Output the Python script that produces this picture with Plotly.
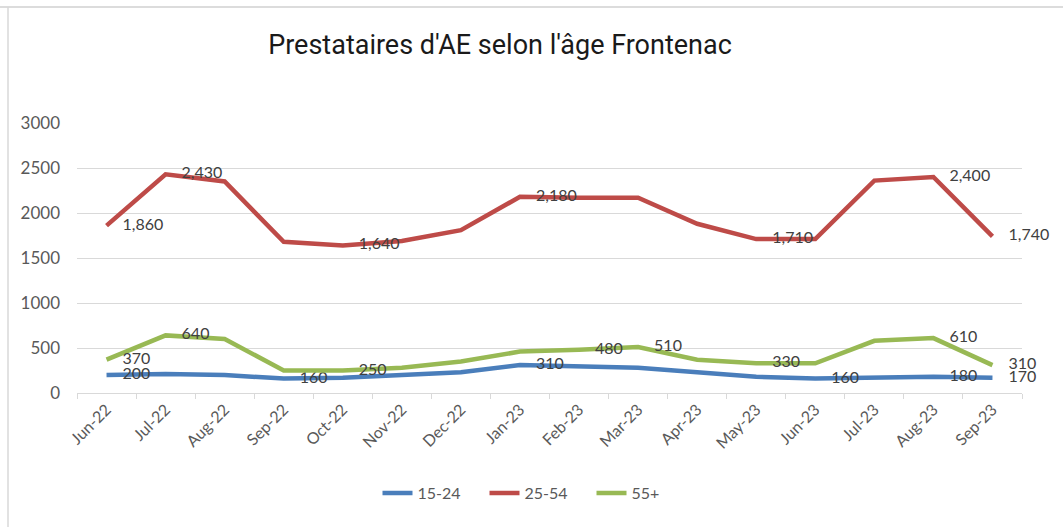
import plotly.graph_objects as go

months = ["Jun-22", "Jul-22", "Aug-22", "Sep-22", "Oct-22", "Nov-22", "Dec-22", "Jan-23",
          "Feb-23", "Mar-23", "Apr-23", "May-23", "Jun-23", "Jul-23", "Aug-23", "Sep-23"]

age_15_24 = [200, 210, 200, 160, 170, 200, 230, 310, 300, 280, 230, 180, 160, 170, 180, 170]
age_25_54 = [1860, 2430, 2350, 1680, 1640, 1690, 1810, 2180, 2170, 2170, 1880, 1710, 1710, 2360, 2400, 1740]
age_55_plus = [370, 640, 600, 250, 250, 280, 350, 460, 480, 510, 370, 330, 330, 580, 610, 310]

# months that carry a value label, per series
labels_15_24 = ["Jun-22", "Sep-22", "Jan-23", "Jun-23", "Aug-23", "Sep-23"]
labels_25_54 = ["Jun-22", "Jul-22", "Oct-22", "Jan-23", "May-23", "Aug-23", "Sep-23"]
labels_55_plus = ["Jun-22", "Jul-22", "Oct-22", "Feb-23", "Mar-23", "May-23", "Aug-23", "Sep-23"]

series = [
    ("15-24", age_15_24, labels_15_24, "#4a7ebb", "{:d}"),
    ("25-54", age_25_54, labels_25_54, "#be4b48", "{:,}"),
    ("55+", age_55_plus, labels_55_plus, "#98b954", "{:d}"),
]

W, H = 1063, 527
L, R, T, B = 77, 1022, 123, 393  # plot area in pixels


def px_x(px):
    return (px - L) / (R - L)


def px_y(py):
    return (B - py) / (B - T)


fig = go.Figure()
for name, vals, lab_months, color, fmt in series:
    text = [fmt.format(v) if m in lab_months else "" for m, v in zip(months, vals)]
    fig.add_trace(go.Scatter(
        x=months, y=vals, name=name,
        mode="lines+markers+text",
        line=dict(color=color, width=4.5),
        marker=dict(size=24, color="rgba(0,0,0,0)"),
        text=text, textposition="middle right",
        textfont=dict(family="Lato", size=16, color="#404040"),
        cliponaxis=False,
    ))

fig.update_layout(
    width=W, height=H,
    margin=dict(l=L, r=W - R, t=T, b=H - B),
    paper_bgcolor="white", plot_bgcolor="white",
    title=dict(
        text="Prestataires d'AE selon l'âge Frontenac",
        x=500 / W, xref="container", xanchor="center",
        y=1 - 45 / H, yref="container", yanchor="middle",
        font=dict(family="Roboto", size=27, color="#1a1a1a"),
    ),
    showlegend=True,
    legend=dict(
        orientation="h", x=px_x(538), xanchor="center", y=px_y(493), yanchor="middle",
        font=dict(family="Lato", size=16, color="#595959"),
        itemwidth=30, entrywidth=62, entrywidthmode="pixels",
    ),
    xaxis=dict(
        type="category", range=[-0.5, len(months) - 0.5],
        showgrid=False, automargin=False,
        showline=True, linecolor="#d9d9d9", linewidth=1,
        ticks="outside", tickson="boundaries", ticklen=5, tickcolor="#d9d9d9",
        tickangle=-45,
        tickfont=dict(family="Lato", size=16, color="#595959"),
    ),
    yaxis=dict(
        range=[0, 3000], dtick=500, tickformat="d", automargin=False,
        showgrid=True, gridcolor="#d9d9d9", gridwidth=1,
        zeroline=False, showline=False, ticks="",
        ticklabelstandoff=16,
        tickfont=dict(family="Lato", size=17, color="#595959"),
    ),
    shapes=[
        dict(type="line", xref="paper", yref="paper",
             x0=px_x(0), x1=px_x(W), y0=px_y(7), y1=px_y(7),
             line=dict(color="#d0d0d0", width=1.5)),
        dict(type="line", xref="paper", yref="paper",
             x0=px_x(8), x1=px_x(8), y0=px_y(7), y1=px_y(H),
             line=dict(color="#d9d9d9", width=1.5)),
    ],
)

fig.write_html("out.html")
